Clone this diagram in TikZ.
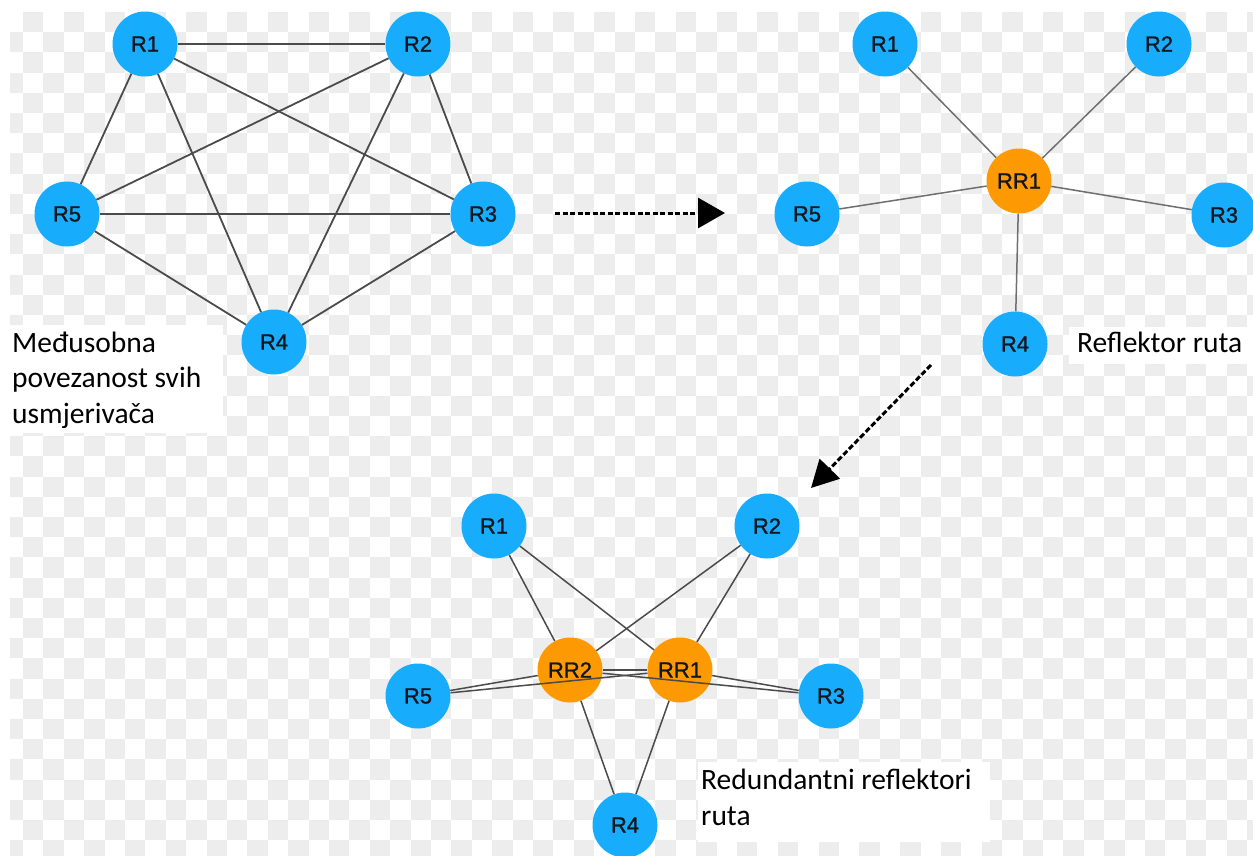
\documentclass[tikz,border=0pt]{standalone}
\usepackage{fontspec}
\setmainfont{Liberation Sans}
\newfontfamily\calib{Carlito}
\newfontfamily\nodefont{Liberation Sans}[FakeBold=1.1]
\usetikzlibrary{arrows.meta}
\definecolor{nodeblue}{RGB}{24,172,252}
\definecolor{nodeorange}{RGB}{253,154,3}
\definecolor{checkgrey}{RGB}{237,237,237}
\definecolor{edgegrey}{RGB}{75,75,75}
\definecolor{labelink}{RGB}{18,22,30}
\tikzset{
  router/.style={circle, fill=nodeblue, minimum size=65pt, inner sep=0pt, text=labelink, font=\nodefont\fontsize{22}{26}\selectfont},
  reflector/.style={router, fill=nodeorange},
  link/.style={draw=edgegrey, line width=1.8pt},
  thinlink/.style={draw=edgegrey!80, line width=1.5pt},
  caption/.style={font=\calib\fontsize{29.5}{35.5}\selectfont, text=black, anchor=base west, align=left, inner sep=0pt},
  flow/.style={line width=3pt, dash pattern=on 5pt off 2.5pt, -{Triangle[length=27pt,width=30pt]}},
  checker/.style={fill=checkgrey},
}
\begin{document}
\begin{tikzpicture}[x=1pt,y=-1pt]
\useasboundingbox (0,0) rectangle (1253,855);
\fill[white] (0,0) rectangle (1253,855);
% transparency checkerboard
\begin{scope}
\clip (10,11) rectangle (1253,855);
\foreach \r in {0,...,41}{
  \pgfmathtruncatemacro{\cs}{mod(\r+1,2)}
  \pgfmathtruncatemacro{\cn}{\cs+2}
  \foreach \c in {\cs,\cn,...,61}{
    \fill[checker] ({2.6+\c*20.4},{12+\r*20.2}) rectangle ++(20.4,20.2);
  }
}
\end{scope}

% ---------- full mesh ----------
\node[router] (tl1) at (145,44) {R1};
\node[router] (tl2) at (418,44) {R2};
\node[router] (tl3) at (483,214) {R3};
\node[router] (tl4) at (274,342) {R4};
\node[router] (tl5) at (67,214) {R5};
\foreach \a/\b in {tl1/tl2,tl1/tl3,tl1/tl4,tl1/tl5,tl2/tl3,tl2/tl4,tl2/tl5,tl3/tl4,tl3/tl5,tl4/tl5}
  \draw[link] (\a) -- (\b);

\fill[white] (10,325) rectangle (223,433);
\node[caption] (lab1) at (12,423) {Međusobna\\povezanost svih\\usmjerivača};

% ---------- single route reflector ----------
\node[router] (tr1) at (885,44) {R1};
\node[router] (tr2) at (1159,44) {R2};
\node[router] (tr3) at (1224,215) {R3};
\node[router] (tr4) at (1015,344) {R4};
\node[router] (tr5) at (807,214) {R5};
\node[reflector] (trr1) at (1019,181) {RR1};
\foreach \a in {tr1,tr2,tr3,tr4,tr5}
  \draw[thinlink] (trr1) -- (\a);

\fill[white] (1069,327) rectangle (1253,364);
\node[caption] (lab2) at (1077,352) {Reflektor ruta};

% ---------- redundant route reflectors ----------
\node[router] (b1) at (494,526) {R1};
\node[router] (b2) at (767,526) {R2};
\node[router] (b3) at (831,696) {R3};
\node[router] (b4) at (625,825) {R4};
\node[router] (b5) at (418,696) {R5};
\node[reflector] (brr2) at (570,670) {RR2};
\node[reflector] (brr1) at (680,670) {RR1};
\foreach \a in {b1,b2,b3,b4,b5}{
  \draw[link, line width=1.5pt] (brr1) -- (\a);
  \draw[link, line width=1.5pt] (brr2) -- (\a);
}
\draw[link, line width=1.5pt] (brr2) -- (brr1);

\fill[white] (698,762) rectangle (990,842);
\node[caption] (lab3) at (701,825) {Redundantni reflektori\\ruta};

% ---------- transitions ----------
\coordinate (h1) at (555,213);
\coordinate (h2) at (725,213);
\draw[flow] (h1) -- (h2);
\coordinate (d1) at (931,365);
\coordinate (d2) at (811,488);
\draw[flow, dash pattern=on 5.5pt off 2.5pt, -{Triangle[length=27pt,width=28pt]}] (d1) -- (d2);
\end{tikzpicture}
\end{document}
